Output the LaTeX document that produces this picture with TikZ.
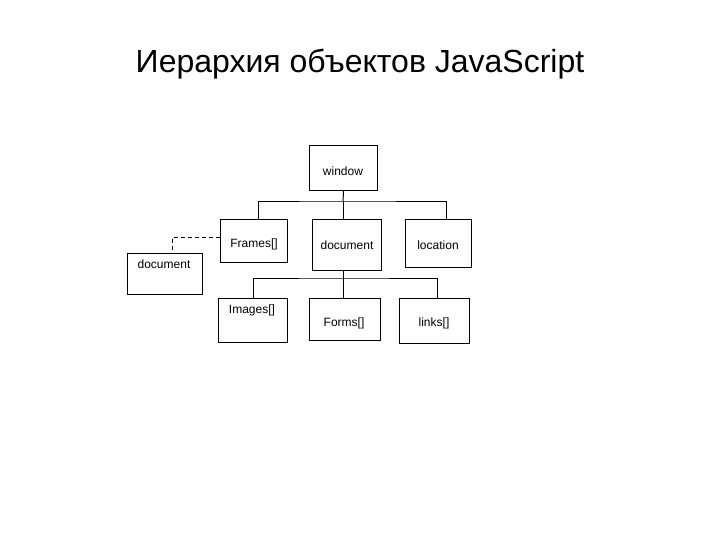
\documentclass[tikz,border=0pt]{standalone}
\usepackage{fontspec}
\setmainfont{Liberation Sans}
\begin{document}
\begin{tikzpicture}[x=1pt,y=-1pt,
  box/.style={draw,line width=1pt,inner sep=0pt,anchor=north west},
  lbl/.style={inner sep=0pt,font=\fontsize{12}{14}\selectfont},
  conn/.style={line width=1pt},
  dconn/.style={line width=1pt,dash pattern=on 4pt off 3pt}]
\useasboundingbox[fill=white] (0,0) rectangle (720,540);
\node[font=\fontsize{32}{38}\selectfont] (title) at (360,64) {Иерархия объектов JavaScript};
% boxes
\node[box,minimum width=68,minimum height=45] (win) at (309,145) {};
\node[box,minimum width=67,minimum height=43] (frames) at (220,219) {};
\node[box,minimum width=69,minimum height=51] (doc) at (312,219) {};
\node[box,minimum width=66,minimum height=48] (loc) at (405,219) {};
\node[box,minimum width=69,minimum height=44] (img) at (218,298) {};
\node[box,minimum width=71,minimum height=42] (forms) at (309,298) {};
\node[box,minimum width=70,minimum height=45] (links) at (399,298) {};
\node[box,minimum width=75,minimum height=41] (ldoc) at (127,253) {};
% labels
\node[lbl] (twin) at (343,171) {window};
\node[lbl] (tframes) at (254,244) {Frames[]};
\node[lbl] (tdoc) at (347,245) {document};
\node[lbl] (tloc) at (438,245) {location};
\node[lbl] (timg) at (252,310) {Images[]};
\node[lbl] (tforms) at (344,323) {Forms[]};
\node[lbl] (tlinks) at (434,323) {links[]};
\node[lbl] (tldoc) at (164,264) {document};
% connectors
\coordinate (b1) at (343,202);
\coordinate (b2) at (343,278);
\draw[conn] (win.south) -- (b1);
\draw[conn] ([xshift=4.5pt]frames.north) |- (b1) -| ([xshift=8pt]loc.north);
\draw[conn] (b1) -- (doc.north -| b1);
\draw[conn] (doc.south -| b2) -- (b2);
\draw[conn] ([xshift=0.5pt]img.north) |- (b2) -| ([xshift=3pt]links.north);
\draw[conn] (b2) -- (forms.north -| b2);
\draw[dconn] (frames.west |- 0,237) -| ([xshift=7.5pt]ldoc.north);
\end{tikzpicture}
\end{document}
